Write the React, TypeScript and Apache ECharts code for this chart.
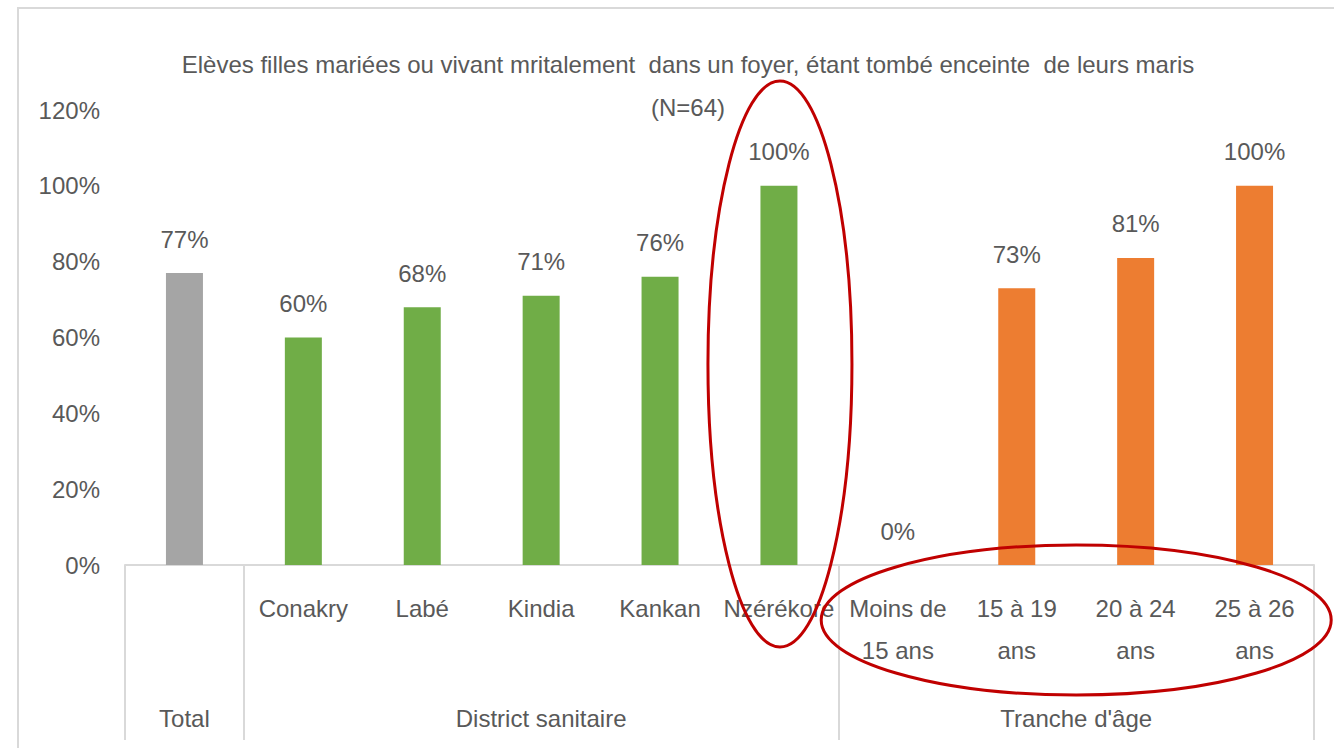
import React, { useEffect, useRef } from "react";
import * as echarts from "echarts";

const categories = ["Total", "Conakry", "Labé", "Kindia", "Kankan", "Nzérékore", "Moins de\n15 ans", "15 à 19\nans", "20 à 24\nans", "25 à 26\nans"];
const groupOfCategory = ["total", "district", "district", "district", "district", "district", "age", "age", "age", "age"];
const values = [77, 60, 68, 71, 76, 100, 0, 73, 81, 100];
const groupNames = ["Total", "District sanitaire", "Tranche d'âge"];
const groupBounds = [0, 1, 6, 10];
const yTicks = [0, 20, 40, 60, 80, 100, 120];
const titleText = "Elèves filles mariées ou vivant mritalement  dans un foyer, étant tombé enceinte  de leurs maris\n(N=64)";

const groupColors: Record<string, string> = { total: "#A5A5A5", district: "#70AD47", age: "#ED7D31" };
const FONT = "'Liberation Sans', Arial, sans-serif";
const FS = 24;
const GRAY = "#595959";
const LINE = "#D9D9D9";

export default function App() {
  const ref = useRef<HTMLDivElement>(null);
  useEffect(() => {
    if (!ref.current) return;
    const chart = echarts.init(ref.current, null, { renderer: "svg" });
    const groupCenters = groupNames.map((_, i) => (groupBounds[i] + groupBounds[i + 1]) / 2);
    const option: any = {
      animation: false,
      backgroundColor: "#fff",
      textStyle: { fontFamily: FONT },
      title: {
        text: titleText,
        left: 683,
        top: 38,
        textAlign: "center",
        textStyle: { fontFamily: FONT, fontSize: FS, fontWeight: "normal", color: GRAY, lineHeight: 43 },
      },
      grid: { left: 125, right: 20, top: 110, bottom: 183 },
      xAxis: [
        {
          type: "category",
          data: categories,
          axisLine: { show: true, lineStyle: { color: LINE, width: 2 } },
          axisTick: { show: false },
          axisLabel: {
            interval: 0,
            color: GRAY,
            fontFamily: FONT,
            fontSize: FS,
            lineHeight: 42,
            margin: 22,
            formatter: (v: string) => (v === "Total" ? "" : v),
          },
          splitLine: { show: false },
        },
        {
          type: "value",
          min: 0,
          max: 10,
          position: "bottom",
          axisLine: { show: false },
          axisTick: { show: true, customValues: groupBounds, length: 175, lineStyle: { color: LINE, width: 2 } },
          axisLabel: {
            customValues: groupCenters,
            color: GRAY,
            fontFamily: FONT,
            fontSize: FS,
            lineHeight: 42,
            margin: 132,
            formatter: (v: number) => {
              const i = groupCenters.indexOf(v);
              return i >= 0 ? groupNames[i] : "";
            },
          },
          splitLine: { show: false },
        },
      ],
      yAxis: {
        type: "value",
        min: 0,
        max: 120,
        interval: 20,
        axisLine: { show: false },
        axisTick: { show: false },
        splitLine: { show: false },
        axisLabel: {
          color: GRAY,
          fontFamily: FONT,
          fontSize: FS,
          margin: 25,
          customValues: yTicks,
          formatter: (v: number) => `${v}%`,
        },
      },
      series: [
        {
          type: "bar",
          xAxisIndex: 0,
          yAxisIndex: 0,
          barWidth: 37,
          data: values.map((v, i) => ({ value: v, itemStyle: { color: groupColors[groupOfCategory[i]] } })),
          label: {
            show: true,
            position: "top",
            distance: 22,
            color: GRAY,
            fontFamily: FONT,
            fontSize: FS,
            formatter: (p: any) => `${p.value}%`,
          },
        },
      ],
    };
    chart.setOption(option);

    const x1 = chart.convertToPixel({ xAxisIndex: 0 }, categories[5]) as number;
    const y1 = chart.convertToPixel({ yAxisIndex: 0 }, 53) as number;
    const x2 = chart.convertToPixel({ xAxisIndex: 1 }, groupCenters[2]) as number;
    const y0 = chart.convertToPixel({ yAxisIndex: 0 }, 0) as number;
    chart.setOption({
      graphic: [
        {
          type: "rect",
          shape: { x: 18, y: 8, width: 1400, height: 800 },
          style: { fill: "none", stroke: LINE, lineWidth: 2 },
          z: 0,
        },
        {
          type: "ellipse",
          shape: { cx: x1 + 1, cy: y1, rx: 72, ry: 283 },
          style: { fill: "none", stroke: "#C00000", lineWidth: 3 },
          z: 100,
        },
        {
          type: "ellipse",
          shape: { cx: x2, cy: y0 + 55, rx: 255, ry: 75 },
          style: { fill: "none", stroke: "#C00000", lineWidth: 3 },
          z: 100,
        },
      ],
    });
    return () => chart.dispose();
  }, []);
  return <div ref={ref} style={{ position: "fixed", left: 0, top: 0, width: 1334, height: 748, background: "#fff" }} />;
}
